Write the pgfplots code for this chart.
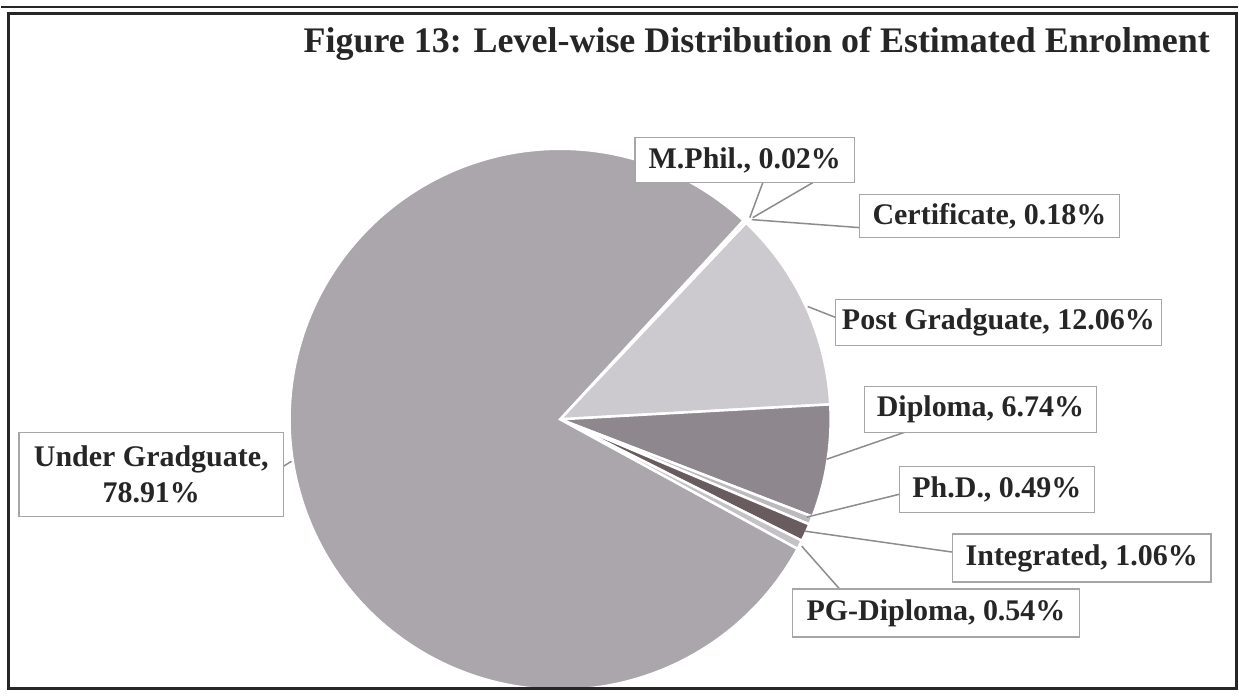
\documentclass[border=0pt]{standalone}
\usepackage{pgfplots}
\pgfplotsset{compat=1.18}
\usepackage{pgfplotstable}
\usepackage{fontspec}
\setmainfont{Liberation Serif}

\pgfplotstableread[col sep=comma]{
level,share
M.Phil.,0.02
Certificate,0.18
Post Gradguate,12.06
Diploma,6.74
Ph.D.,0.49
Integrated,1.06
PG-Diploma,0.54
Under Gradguate,78.91
}\shares

\definecolor{s0}{RGB}{196,194,198}
\definecolor{s1}{RGB}{186,184,188}
\definecolor{s2}{RGB}{204,202,206}
\definecolor{s3}{RGB}{142,136,142}
\definecolor{s4}{RGB}{188,186,190}
\definecolor{s5}{RGB}{105,92,94}
\definecolor{s6}{RGB}{196,194,198}
\definecolor{s7}{RGB}{170,166,172}

\tikzset{
  lbl/.style={draw=black!35, line width=0.5pt, fill=white, inner sep=0pt,
     font=\fontsize{12}{14.2}\selectfont\bfseries, text=black!85},
  leader/.style={draw=black!45, line width=0.6pt},
}

\begin{document}
\begin{tikzpicture}
\def\cum{47.3}
\pgfplotsforeachungrouped \i in {0,...,7}{%
  \pgfplotstablegetelem{\i}{share}\of\shares
  \pgfmathsetmacro\nxt{\cum-3.6*\pgfplotsretval}%
  \expandafter\xdef\csname angS\i\endcsname{\cum}%
  \expandafter\xdef\csname angE\i\endcsname{\nxt}%
  \xdef\cum{\nxt}%
}
\begin{axis}[
  x=0.4pt, y=0.4pt,
  xmin=0, xmax=1239, ymin=0, ymax=697,
  y dir=reverse, hide axis, clip=false,
]
\path (axis cs:0,0) rectangle (axis cs:1239,697);
\pgfplotsinvokeforeach{0,...,7}{
  \edef\tmp{\noexpand\addplot[fill=s#1, draw=white, line width=1pt, mark=none,
     domain=\csname angE#1\endcsname:\csname angS#1\endcsname,
     samples=\ifnum#1=7 180\else 30\fi]
     ({560+271*cos(x)},{420-271*sin(x)}) -- (axis cs:560,420) -- cycle;}
  \tmp
}
% frame
\draw[line width=1.2pt, black!85] (axis cs:8,14) rectangle (axis cs:1237,690);
\draw[line width=0.8pt, black!85] (axis cs:0,7) -- (axis cs:1239,7);
% title
\node[anchor=base, font=\fontsize{14.4}{17}\selectfont\bfseries, text=black!85]
  at (axis cs:757,53) {Figure 13: Level-wise Distribution of Estimated Enrolment};
% leaders
\draw[leader] (axis cs:750,218) -- (axis cs:763,183);
\draw[leader] (axis cs:753,218) -- (axis cs:813,183);
\draw[leader] (axis cs:752,220) -- (axis cs:860,228);
\draw[leader] (axis cs:808,307) -- (axis cs:836,318);
\draw[leader] (axis cs:827,460) -- (axis cs:905,433);
\draw[leader] (axis cs:807,518) -- (axis cs:900,495);
\draw[leader] (axis cs:805,532) -- (axis cs:953,553);
\draw[leader] (axis cs:802,547) -- (axis cs:840,590);
\draw[leader] (axis cs:283,467) -- (axis cs:291,462);
% labels
\node[lbl, minimum width=88pt, minimum height=18pt] at (axis cs:745,160.5) {M.Phil., 0.02\%};
\node[lbl, minimum width=104pt, minimum height=17.2pt] at (axis cs:990,216.5) {Certificate, 0.18\%};
\node[lbl, minimum width=130.4pt, minimum height=18.4pt] at (axis cs:999,323) {Post Gradguate, 12.06\%};
\node[lbl, minimum width=92.8pt, minimum height=18.4pt] at (axis cs:981,410) {Diploma, 6.74\%};
\node[lbl, minimum width=78pt, minimum height=18.4pt] at (axis cs:997.5,490) {Ph.D., 0.49\%};
\node[lbl, minimum width=103.6pt, minimum height=19.2pt] at (axis cs:1082.5,559) {Integrated, 1.06\%};
\node[lbl, minimum width=114.8pt, minimum height=19.2pt] at (axis cs:936.5,614) {PG-Diploma, 0.54\%};
\node[lbl, minimum width=106pt, minimum height=33.6pt, align=center] at (axis cs:150.5,475) {Under Gradguate,\\78.91\%};
\end{axis}
\end{tikzpicture}
\end{document}
